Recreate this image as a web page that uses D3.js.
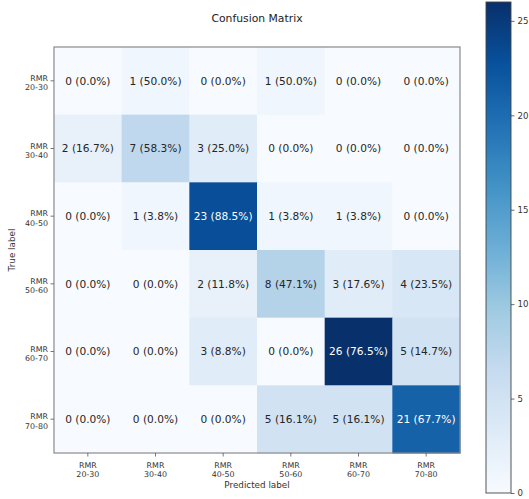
<!DOCTYPE html>
<html>
<head>
<meta charset="utf-8">
<script src="https://cdn.jsdelivr.net/npm/d3@7"></script>
<style>
  html, body { margin: 0; padding: 0; background: #fff; }
  svg { display: block; font-family: "DejaVu Sans", sans-serif; }
</style>
</head>
<body>
<svg id="chart" width="529" height="499"></svg>
<script>
// Class labels (true rows / predicted columns)
const classes = ["20-30", "30-40", "40-50", "50-60", "60-70", "70-80"];
const classPrefix = "RMR";

// Counts per true class (rows), predicted class (columns)
const row2030 = [0, 1, 0, 1, 0, 0];
const row3040 = [2, 7, 3, 0, 0, 0];
const row4050 = [0, 1, 23, 1, 1, 0];
const row5060 = [0, 0, 2, 8, 3, 4];
const row6070 = [0, 0, 3, 0, 26, 5];
const row7080 = [0, 0, 0, 5, 5, 21];
const counts = [row2030, row3040, row4050, row5060, row6070, row7080];

// Colorbar ticks
const colorbarTicks = [0, 5, 10, 15, 20, 25];

// "Blues" colormap anchors, linearly interpolated in RGB
const bluesStops = ["#f7fbff", "#deebf7", "#c6dbef", "#9ecae1", "#6baed6",
                    "#4292c6", "#2171b5", "#08519c", "#08306b"];

const svg = d3.select("#chart");

const plot = { left: 54, top: 47, size: 406 };
const cbar = { left: 486, width: 25, top: 2, bottom: 493 };

const blues = d3.scaleLinear()
  .domain(bluesStops.map((_, i) => i / (bluesStops.length - 1)))
  .range(bluesStops)
  .interpolate(d3.interpolateRgb);

const vmax = d3.max(counts.flat());
const color = v => blues(v / vmax);

const x = d3.scaleBand().domain(classes).range([plot.left, plot.left + plot.size]);
const y = d3.scaleBand().domain(classes).range([plot.top, plot.top + plot.size]);

// Flatten into cells with row-normalised percentage
const cells = [];
counts.forEach((row, i) => {
  const total = d3.sum(row);
  row.forEach((v, j) => {
    cells.push({ t: classes[i], p: classes[j], v, pct: total ? 100 * v / total : 0 });
  });
});

// Title
svg.append("text")
  .attr("x", plot.left + plot.size / 2)
  .attr("y", 22)
  .attr("text-anchor", "middle")
  .attr("font-size", 10.8)
  .attr("fill", "#222")
  .text("Confusion Matrix");

// Heatmap cells
svg.append("g").selectAll("rect").data(cells).join("rect")
  .attr("x", d => x(d.p))
  .attr("y", d => y(d.t))
  .attr("width", x.bandwidth() + 0.5)
  .attr("height", y.bandwidth() + 0.5)
  .attr("fill", d => color(d.v));

// Cell annotations
svg.append("g").selectAll("text").data(cells).join("text")
  .attr("x", d => x(d.p) + x.bandwidth() / 2)
  .attr("y", d => y(d.t) + y.bandwidth() / 2)
  .attr("dy", "0.35em")
  .attr("text-anchor", "middle")
  .attr("font-size", 10.6)
  .attr("fill", d => d.v > vmax / 2 ? "#ffffff" : "#262626")
  .text(d => `${d.v} (${d.pct.toFixed(1)}%)`);

// Axes frame
svg.append("rect")
  .attr("x", plot.left).attr("y", plot.top)
  .attr("width", plot.size).attr("height", plot.size)
  .attr("fill", "none").attr("stroke", "#8a8a8a").attr("stroke-width", 1.2);

// Two-line tick labels
function twoLine(sel, anchor) {
  sel.each(function (d) {
    const t = d3.select(this);
    t.attr("text-anchor", anchor);
    t.append("tspan").attr("x", t.attr("x")).attr("dy", 0).text(classPrefix);
    t.append("tspan").attr("x", t.attr("x")).attr("dy", "1.2em").text(d);
  });
}

// X axis
const xAxis = svg.append("g");
xAxis.selectAll("line").data(classes).join("line")
  .attr("x1", d => x(d) + x.bandwidth() / 2)
  .attr("x2", d => x(d) + x.bandwidth() / 2)
  .attr("y1", plot.top + plot.size)
  .attr("y2", plot.top + plot.size + 3.5)
  .attr("stroke", "#555").attr("stroke-width", 0.8);
xAxis.selectAll("text").data(classes).join("text")
  .attr("x", d => x(d) + x.bandwidth() / 2)
  .attr("y", plot.top + plot.size + 15)
  .attr("font-size", 7.9)
  .attr("fill", "#333")
  .call(twoLine, "middle");

svg.append("text")
  .attr("x", plot.left + plot.size / 2)
  .attr("y", 488)
  .attr("text-anchor", "middle")
  .attr("font-size", 8.8)
  .attr("fill", "#333")
  .text("Predicted label");

// Y axis
const yAxis = svg.append("g");
yAxis.selectAll("line").data(classes).join("line")
  .attr("x1", plot.left - 3.5)
  .attr("x2", plot.left)
  .attr("y1", d => y(d) + y.bandwidth() / 2)
  .attr("y2", d => y(d) + y.bandwidth() / 2)
  .attr("stroke", "#555").attr("stroke-width", 0.8);
yAxis.selectAll("text").data(classes).join("text")
  .attr("x", plot.left - 6)
  .attr("y", d => y(d) + y.bandwidth() / 2)
  .attr("font-size", 7.9)
  .attr("fill", "#333")
  .call(twoLine, "end");

svg.append("text")
  .attr("transform", `translate(15,${plot.top + plot.size / 2}) rotate(-90)`)
  .attr("text-anchor", "middle")
  .attr("font-size", 8.8)
  .attr("fill", "#333")
  .text("True label");

// Colorbar
const cy = d3.scaleLinear().domain([0, vmax]).range([cbar.bottom, cbar.top]);
const defs = svg.append("defs");
const grad = defs.append("linearGradient")
  .attr("id", "cbGrad")
  .attr("x1", 0).attr("y1", 1).attr("x2", 0).attr("y2", 0);
bluesStops.forEach((c, i) => {
  grad.append("stop").attr("offset", i / (bluesStops.length - 1)).attr("stop-color", c);
});
svg.append("rect")
  .attr("x", cbar.left).attr("y", cbar.top)
  .attr("width", cbar.width).attr("height", cbar.bottom - cbar.top)
  .attr("fill", "url(#cbGrad)")
  .attr("stroke", "#444").attr("stroke-width", 0.9);

const cAxis = d3.axisRight(cy).tickValues(colorbarTicks).tickSize(3.5).tickPadding(3);
const cg = svg.append("g")
  .attr("transform", `translate(${cbar.left + cbar.width},0)`)
  .call(cAxis);
cg.select(".domain").remove();
cg.selectAll("line").attr("stroke", "#444").attr("stroke-width", 0.8);
cg.selectAll("text").attr("font-size", 8.6).attr("fill", "#333").attr("font-family", "DejaVu Sans, sans-serif");
</script>
</body>
</html>
